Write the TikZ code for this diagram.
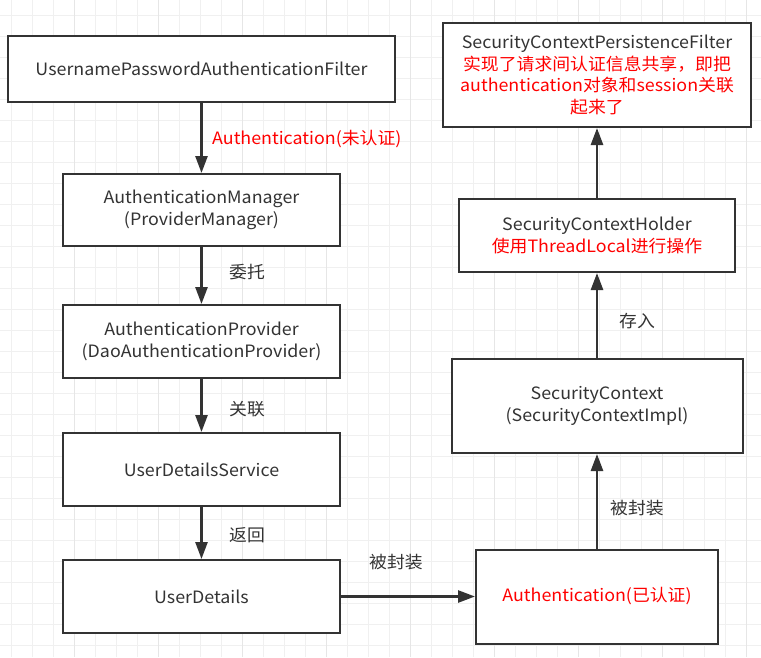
\documentclass[tikz,border=0pt]{standalone}
\usepackage{fontspec}
\setmainfont[FakeStretch=1.05]{Noto Sans CJK SC}
\usetikzlibrary{arrows.meta}
\definecolor{ink}{HTML}{333333}
\definecolor{redtxt}{HTML}{FF0000}
\definecolor{gridc}{HTML}{F0F0F0}
\definecolor{gridm}{HTML}{E6E6E6}
\tikzset{
  box/.style={draw=ink, line width=2pt, fill=white, text=ink, align=center,
    font=\fontsize{17}{21.7}\selectfont, inner sep=0pt},
  flow/.style={draw=ink, line width=2.6pt, -{Triangle[length=17pt,width=12pt]}},
  lbl/.style={anchor=west, text=ink, font=\fontsize{17}{20}\selectfont, inner sep=0pt},
  rlbl/.style={anchor=west, text=redtxt, font=\fontsize{17}{20}\selectfont, inner sep=0pt}
}
\begin{document}
\begin{tikzpicture}[x=1pt,y=-1pt]
\useasboundingbox (0,0) rectangle (761,657);
\fill[white] (0,0) rectangle (761,657);
% grid
\foreach \i in {0,...,35} {
  \draw[gridc, line width=1pt] ({11+21*\i},0) -- ({11+21*\i},657);
}
\foreach \j in {0,...,31} {
  \draw[gridc, line width=1pt] (0,{15.5+21*\j}) -- (761,{15.5+21*\j});
}
\foreach \i in {0,...,8} {
  \draw[gridm, line width=1pt] ({74+84*\i},0) -- ({74+84*\i},657);
}
% left column
\node[box, minimum width=387pt, minimum height=66pt] (filter) at (201.5,69) {UsernamePasswordAuthenticationFilter};
\node[box, minimum width=277pt, minimum height=72pt] (mgr) at (201.5,210) {AuthenticationManager\\(ProviderManager)};
\node[box, minimum width=277pt, minimum height=73pt] (prov) at (201.5,341.5) {AuthenticationProvider\\(DaoAuthenticationProvider)};
\node[box, minimum width=277pt, minimum height=73pt] (uds) at (201.5,469.5) {UserDetailsService};
\node[box, minimum width=277pt, minimum height=73pt] (ud) at (201.5,596.5) {UserDetails};
% right column
\node[box, minimum width=242pt, minimum height=94pt, text=redtxt] (auth) at (597,596.5) {Authentication(已认证)};
\node[box, minimum width=291pt, minimum height=94pt] (sc) at (597,406) {SecurityContext\\(SecurityContextImpl)};
\node[box, minimum width=276pt, minimum height=73pt] (sch) at (597,235.5) {SecurityContextHolder\\\textcolor{redtxt}{使用ThreadLocal进行操作}};
\node[box, minimum width=308pt, minimum height=104pt] (scpf) at (597,75) {SecurityContextPersistenceFilter\\\textcolor{redtxt}{实现了请求间认证信息共享，即把}\\\textcolor{redtxt}{authentication对象和session关联}\\\textcolor{redtxt}{起来了}};
% connectors
\draw[flow] (filter) -- (mgr);
\draw[flow] (mgr) -- (prov);
\draw[flow] (prov) -- (uds);
\draw[flow] (uds) -- (ud);
\draw[flow] (ud) -- (auth);
\draw[flow] (auth) -- (sc);
\draw[flow] (sc) -- (sch);
\draw[flow] (sch) -- (scpf);
% labels
\node[rlbl] (l1) at (212,139) {Authentication(未认证)};
\node[lbl] (l2) at (229,272) {委托};
\node[lbl] (l3) at (229,409) {关联};
\node[lbl] (l4) at (229,535) {返回};
\node[lbl] (l5) at (369,562) {被封装};
\node[lbl] (l6) at (610,508) {被封装};
\node[lbl] (l7) at (619,321) {存入};
\end{tikzpicture}
\end{document}
